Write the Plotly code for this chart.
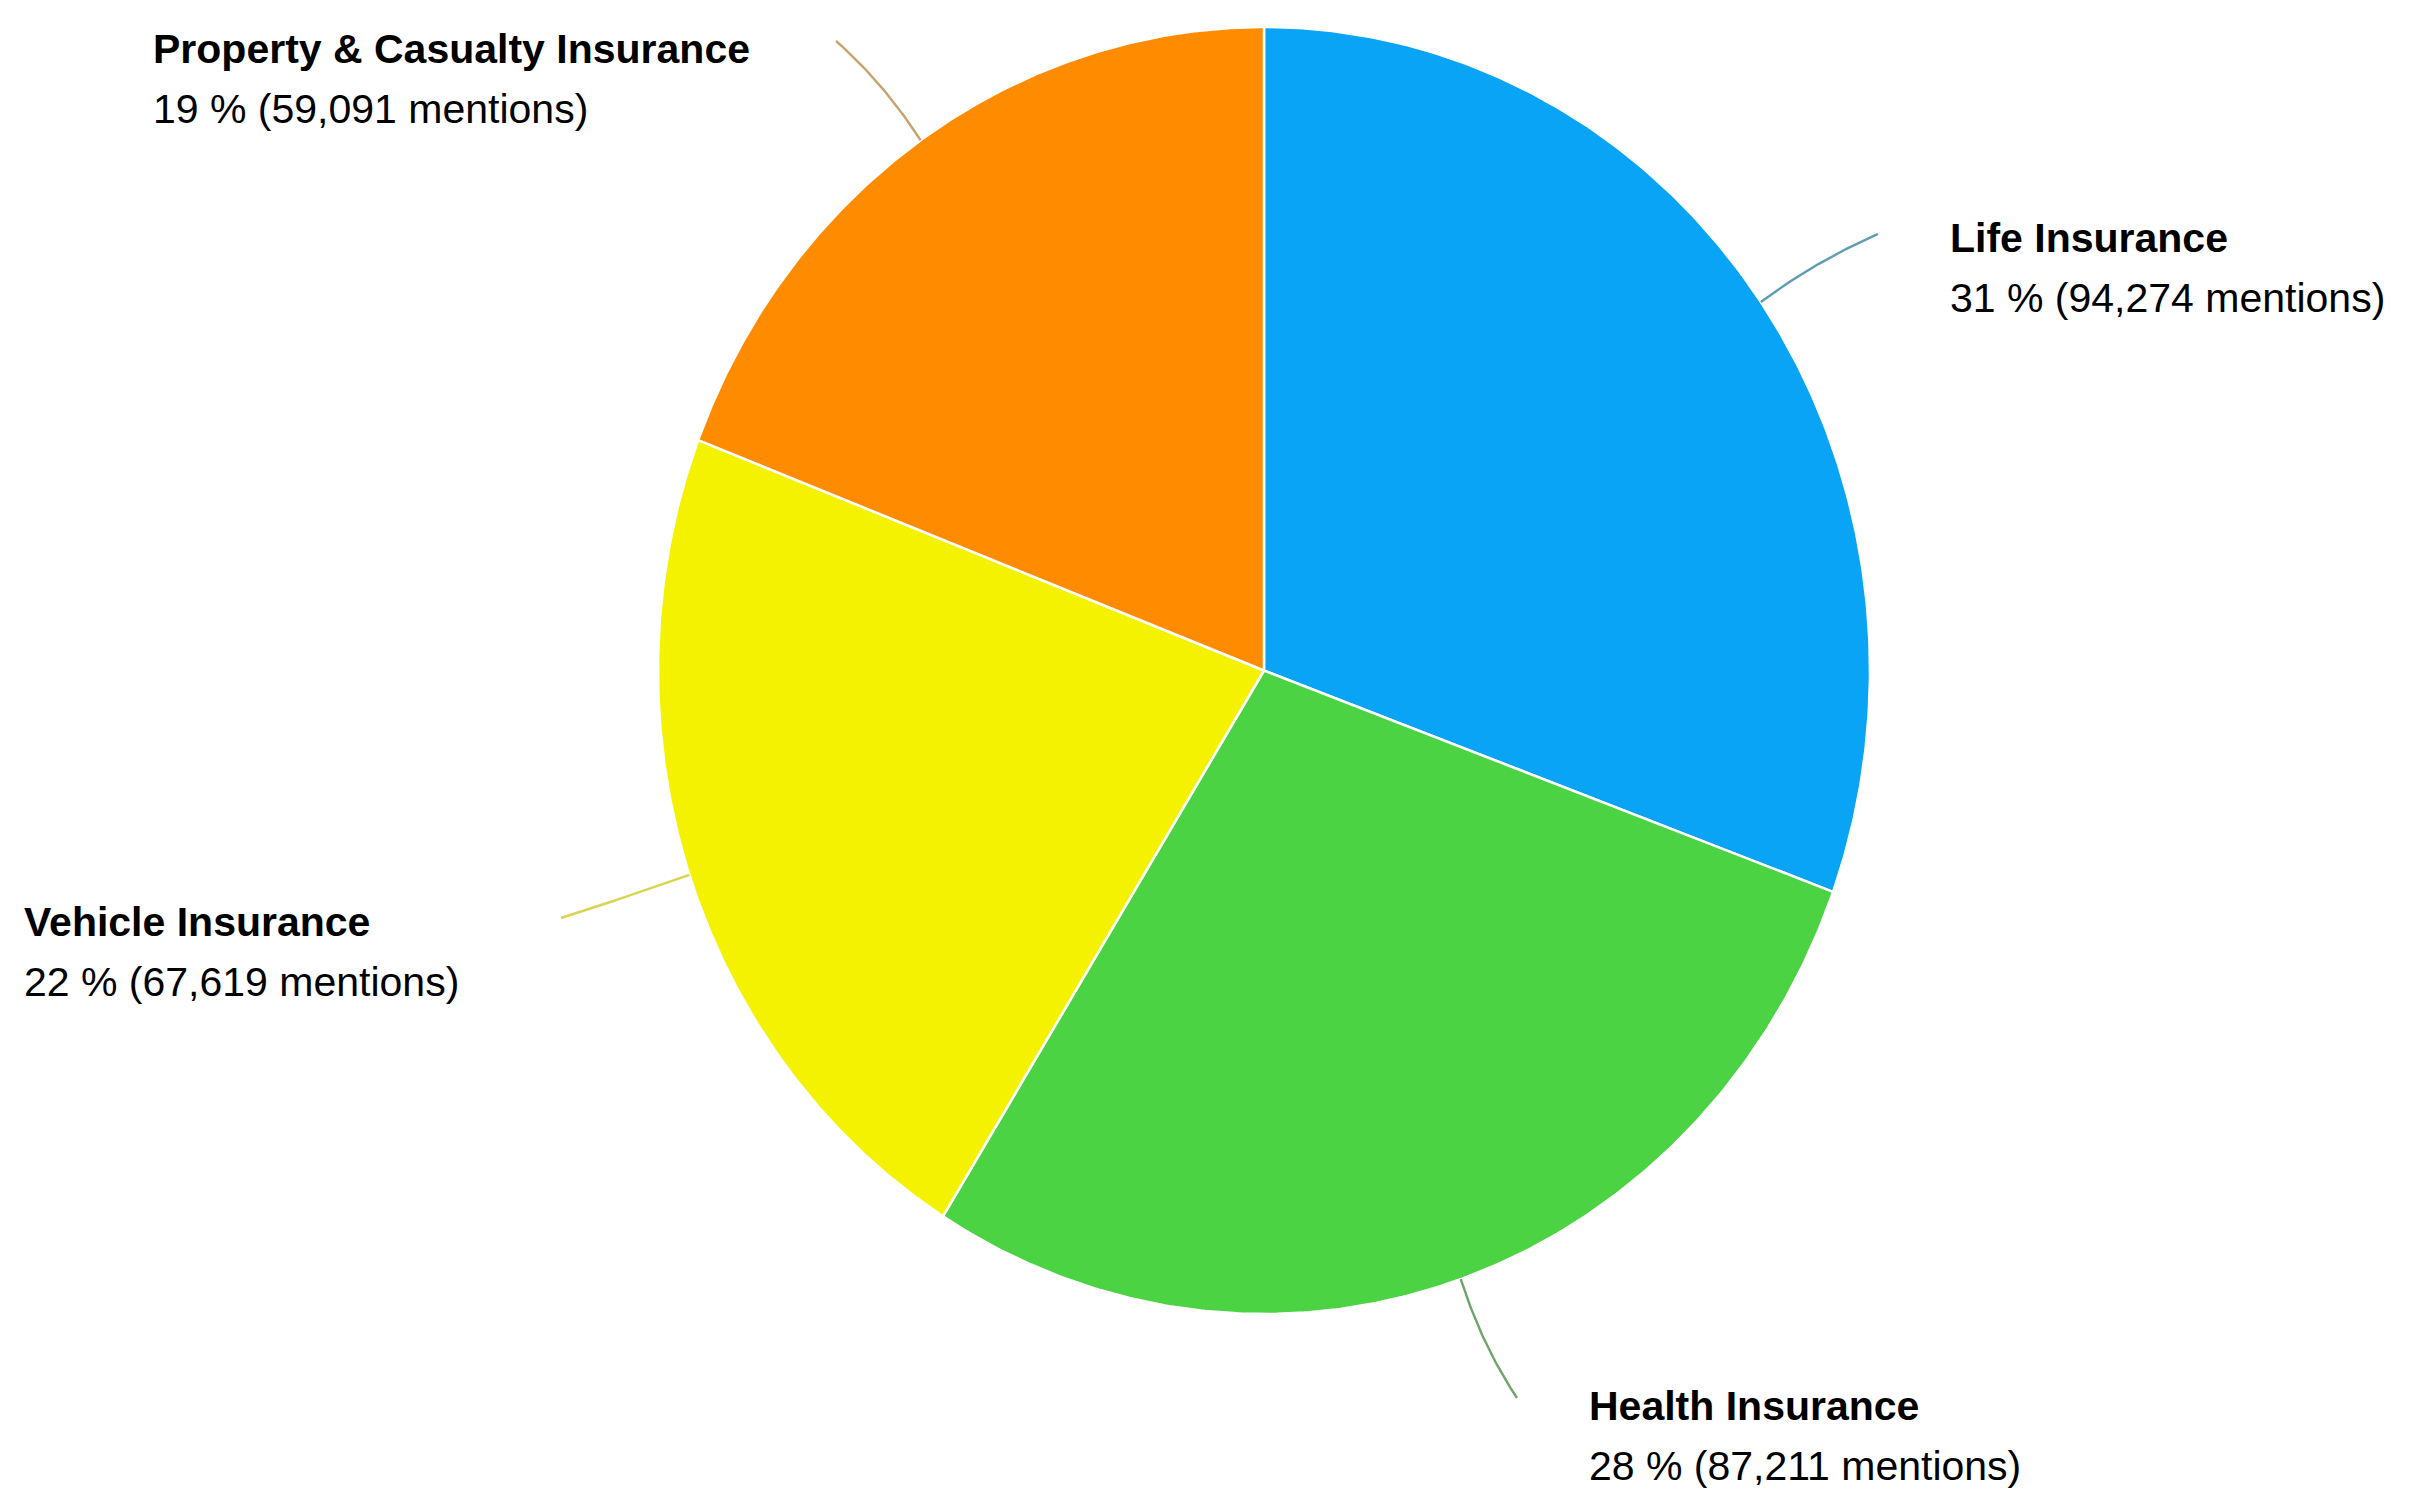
import numpy as np
import plotly.graph_objects as go

# Share of mentions by insurance type
categories = ["Life Insurance", "Health Insurance", "Vehicle Insurance", "Property & Casualty Insurance"]
mentions = [94274, 87211, 67619, 59091]

slice_colors = ["#0AA4F6", "#4CD343", "#F5F200", "#FF8C00"]
leader_colors = ["#5F9BB3", "#6DA56A", "#D8D650", "#C8A36F"]

W, H = 2409, 1492
# pie geometry in page pixels (centre and radii of the ellipse)
CX, CY = 1264.0, 670.5
RX, RY = 606.0, 643.5

def to_x(px):
    return (px - CX) / RX

def to_y(py):
    return (CY - py) / RY

# label layout in page pixels: left edge, title line y, detail line y, leader end point
label_layout = {
    "Life Insurance": (1948, 238, 298, (1878, 234)),
    "Health Insurance": (1587, 1406, 1466, (1517, 1398)),
    "Vehicle Insurance": (22, 922, 982, (561, 918)),
    "Property & Casualty Insurance": (151, 49, 109, (836, 41)),
}

FONT = dict(family="Liberation Sans, Arial, sans-serif", size=41, color="#000000")

total = sum(mentions)
fractions = np.array(mentions) / total
ends = np.cumsum(fractions)
starts = ends - fractions

fig = go.Figure()
annotations = []

for name, val, f0, f1, col, lcol in zip(categories, mentions, starts, ends, slice_colors, leader_colors):
    # angles measured clockwise from 12 o'clock
    a = np.linspace(f0, f1, 240) * 2 * np.pi
    xs = np.concatenate([[0.0], np.sin(a), [0.0]])
    ys = np.concatenate([[0.0], np.cos(a), [0.0]])
    fig.add_trace(go.Scatter(
        x=xs, y=ys, mode="lines", fill="toself", fillcolor=col,
        line=dict(color="white", width=2.5), hoverinfo="skip", showlegend=False,
    ))

    # curved leader line from the slice middle to its label
    mid = (f0 + f1) / 2 * 2 * np.pi
    left, ty, dy, (ex, ey) = label_layout[name]
    p0 = np.array([np.sin(mid), np.cos(mid)])
    p1 = 1.11 * p0
    p2 = np.array([to_x(ex), to_y(ey)])
    t = np.linspace(0, 1, 40)[:, None]
    curve = (1 - t) ** 2 * p0 + 2 * (1 - t) * t * p1 + t ** 2 * p2
    fig.add_trace(go.Scatter(
        x=curve[:, 0], y=curve[:, 1], mode="lines",
        line=dict(color=lcol, width=2.4), hoverinfo="skip", showlegend=False,
    ))

    pct = round(val / total * 100)
    annotations.append(dict(
        x=to_x(left), y=to_y(ty), xref="x", yref="y", xanchor="left", yanchor="middle",
        text=f"<b>{name}</b>", showarrow=False, font=FONT,
    ))
    annotations.append(dict(
        x=to_x(left), y=to_y(dy), xref="x", yref="y", xanchor="left", yanchor="middle",
        text=f"{pct} % ({val:,} mentions)", showarrow=False, font=FONT,
    ))

fig.update_layout(
    width=W, height=H,
    margin=dict(l=0, r=0, t=0, b=0),
    paper_bgcolor="white", plot_bgcolor="white",
    xaxis=dict(range=[to_x(0), to_x(W)], visible=False, fixedrange=True),
    yaxis=dict(range=[to_y(H), to_y(0)], visible=False, fixedrange=True),
    annotations=annotations,
    showlegend=False,
)

fig.write_html("out.html")
